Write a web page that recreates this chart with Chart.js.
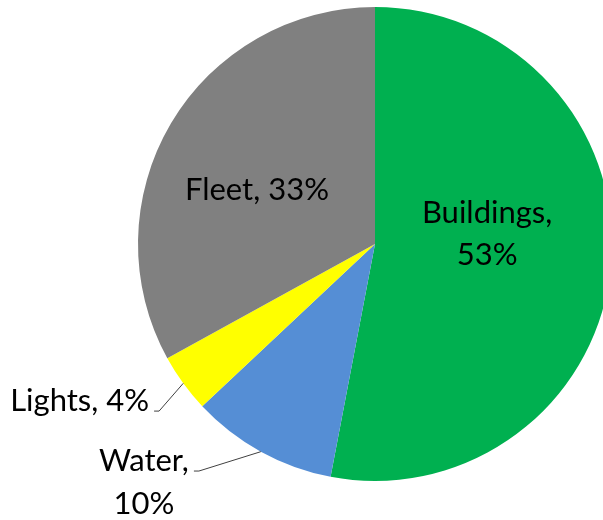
<!DOCTYPE html>
<html>
<head>
<meta charset="utf-8">
<script src="https://cdn.jsdelivr.net/npm/chart.js@4/dist/chart.umd.min.js"></script>
<style>
  html, body { margin: 0; padding: 0; background: #fff; overflow: hidden; }
  #wrap { position: absolute; left: 0; top: 0; width: 612px; height: 520px; }
</style>
</head>
<body>
<div id="wrap"><canvas id="energyPie" width="612" height="520"></canvas></div>
<script>
const categories = ['Buildings', 'Water', 'Lights', 'Fleet'];
const shares = [53, 10, 4, 33];
const sliceColors = ['#00B050', '#558ED5', '#FFFF00', '#808080'];

// label text is split over lines the same way for each slice
const labelLines = [
  [categories[0] + ',', shares[0] + '%'],
  [categories[1] + ',', shares[1] + '%'],
  [categories[2] + ', ' + shares[2] + '%'],
  [categories[3] + ', ' + shares[3] + '%']
];

// placement in units of the pie radius, measured from the centre
const labelPlacement = [
  { inside: true, dx: 0.473, dy: -0.089 },
  { inside: false, dx: -0.743, dy: 0.958 },
  { inside: false, dx: -0.911, dy: 0.705 },
  { inside: true, dx: -0.498, dy: -0.186 }
];

const FONT = '31px Lato, "Open Sans", sans-serif';
const LINE_H = 42;

const sliceLabels = {
  id: 'sliceLabels',
  afterDraw(chart) {
    const ctx = chart.ctx;
    const arcs = chart.getDatasetMeta(0).data;
    ctx.save();
    ctx.font = FONT;
    ctx.fillStyle = '#000';
    ctx.textBaseline = 'alphabetic';
    arcs.forEach((arc, i) => {
      const p = labelPlacement[i];
      const r = arc.outerRadius;
      const lines = labelLines[i];
      const ax = arc.x + p.dx * r;
      const ay = arc.y + p.dy * r;
      if (p.inside) {
        ctx.textAlign = 'center';
        lines.forEach((t, k) => ctx.fillText(t, ax, ay + k * LINE_H));
        return;
      }
      // leader line from the middle of the slice's rim
      const mid = (arc.startAngle + arc.endAngle) / 2;
      const ex = arc.x + Math.cos(mid) * r;
      const ey = arc.y + Math.sin(mid) * r;
      const tailX = ax - 5;
      ctx.strokeStyle = '#404040';
      ctx.lineWidth = 1;
      ctx.beginPath();
      ctx.moveTo(ex, ey);
      ctx.lineTo(ax, ay);
      ctx.lineTo(tailX, ay);
      ctx.stroke();
      const maxW = Math.max(...lines.map(t => ctx.measureText(t).width));
      const cx = tailX - 5 - maxW / 2;
      ctx.textAlign = 'center';
      lines.forEach((t, k) => ctx.fillText(t, cx, ay + k * 43));
    });
    ctx.restore();
  }
};

new Chart(document.getElementById('energyPie'), {
  type: 'pie',
  data: {
    labels: categories,
    datasets: [{
      data: shares,
      backgroundColor: sliceColors,
      borderWidth: 0
    }]
  },
  options: {
    responsive: false,
    animation: false,
    devicePixelRatio: 1,
    layout: { padding: { left: 138, right: 0, top: 7, bottom: 39 } },
    plugins: {
      legend: { display: false },
      tooltip: { enabled: false }
    }
  },
  plugins: [sliceLabels]
});
</script>
</body>
</html>
